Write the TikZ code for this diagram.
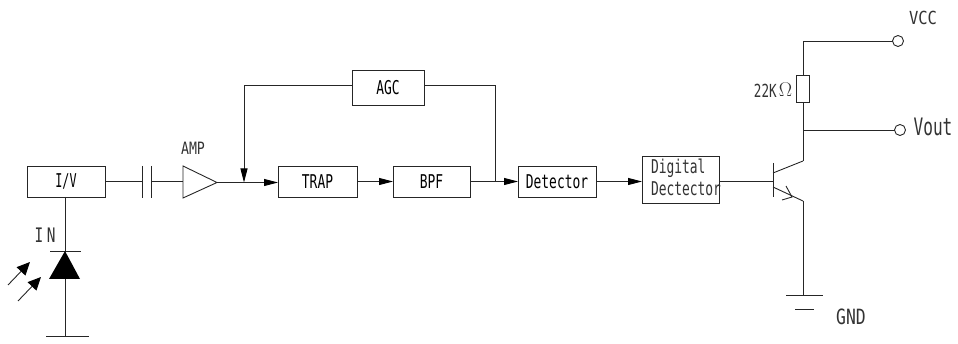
\documentclass[tikz,border=0pt]{standalone}
\usepackage{fontspec}
\setmainfont{DejaVu Sans Mono}
\usetikzlibrary{arrows.meta}
\newcommand{\nar}[2][.68]{\scalebox{#1}[1]{#2}}
\tikzset{
  wire/.style={line width=.9pt,draw=black!85},
  blk/.style={draw=black!85,line width=.9pt,inner sep=0pt,outer sep=0pt,font=\fontsize{19}{22}\selectfont},
  lab/.style={inner sep=0pt,outer sep=0pt,font=\fontsize{19}{22}\selectfont,text=black!80},
  arr/.style={wire,-{Triangle[length=14pt,width=7pt,color=black]}},
  ray/.style={wire,-{Triangle[length=13pt,width=12pt,color=black]}},
  term/.style={circle,draw=black!85,line width=.9pt,inner sep=0pt,outer sep=0pt,minimum size=11pt}
}
\begin{document}
\begin{tikzpicture}[x=1pt,y=-1pt]
\useasboundingbox (0,0) rectangle (958,344);
% blocks
\node[blk,minimum width=78pt,minimum height=31pt] (iv) at (66,181.5) {\nar[.62]{I/V}};
\node[blk,minimum width=79pt,minimum height=31pt] (trap) at (317.5,181.5) {\nar{TRAP}};
\node[blk,minimum width=77pt,minimum height=31pt] (bpf) at (431.5,181.5) {\nar{BPF}};
\node[blk,minimum width=78pt,minimum height=31pt] (det) at (557,181.5) {\nar{Detector}};
\node[blk,minimum width=72pt,minimum height=35pt] (agc) at (388,87.5) {\nar{AGC}};
\node[blk,minimum width=77pt,minimum height=47pt] (dig) at (680.5,179.5) {};
\node[lab,anchor=west] (digA) at (651,168) {\nar{Digital}};
\node[lab,anchor=west] (digB) at (651,188.5) {\nar{Dectector}};
% capacitor
\coordinate (capL) at (142,181);
\coordinate (capR) at (151,181);
\draw[wire] (142,166) -- (142,198);
\draw[wire] (151,166) -- (151,198);
\draw[wire] (iv.east |- capL) -- (capL);
% amplifier
\coordinate (ampIn) at (183,181);
\coordinate (ampOut) at (217,182.5);
\draw[wire,line join=miter] (183,166) -- (ampOut) -- (183,198) -- cycle;
\draw[wire] (capR) -- (ampIn);
\node[lab,font=\fontsize{17}{20}\selectfont] (amp) at (193,148) {\nar[.78]{AMP}};
% signal path
\coordinate (junc) at (244,182.5);
\draw[wire] (ampOut) -- (junc);
\draw[arr] (junc) -- (trap.west |- junc);
\draw[arr] (trap) ++(39.5,0) -- (bpf.west);
\coordinate (tap) at (495,181.5);
\draw[wire] (bpf.east) -- (tap);
\draw[arr] (tap) -- (det.west);
\draw[arr] (det.east) -- (dig.west |- det.east);
% AGC loop
\draw[wire] ([yshift=2.5pt]agc.east) -| (tap);
\draw[arr] ([yshift=2.5pt]agc.west) -| (junc);
% photodiode
\coordinate (dTop) at (65,251);
\coordinate (dBase) at (65,279);
\coordinate (dEnd) at (65,336);
\draw[wire] (iv.south -| dTop) -- (dTop);
\draw[wire] (50,251) -- (81,251);
\fill[black] (dTop) -- (80,279) -- (49,279) -- cycle;
\draw[wire] (dBase) -- (dEnd);
\draw[wire] (46,336) -- (89,336);
\node[lab,font=\fontsize{20}{22}\selectfont] (in) at (45,235) {\scalebox{.72}[1]{I\kern5pt N}};
\draw[ray] (8,285) -- (30,262);
\draw[ray] (18,301) -- (41,277);
% transistor
\coordinate (base) at (773,181);
\coordinate (coll) at (803,161);
\coordinate (emit) at (803,201);
\draw[wire] (dig.east |- base) -- (base);
\draw[wire] (773,163) -- (773,197);
\draw[wire] (773,173) -- (coll);
\draw[wire] (773,187) -- (emit);
\draw[wire] (782,200) -- (792,197) -- (786,186);
% ground
\coordinate (gnd) at (803,295);
\draw[wire] (emit) -- (gnd);
\draw[wire] (786,295) -- (823,295);
\draw[wire] (795,309) -- (814,309);
\node[lab,font=\fontsize{21}{24}\selectfont] (gndt) at (851,317) {\nar[.78]{GND}};
% resistor and outputs
\node[draw=black!85,line width=.9pt,inner sep=0pt,outer sep=0pt,minimum width=13pt,minimum height=27pt] (res) at (803,88.5) {};
\node[lab,font=\fontsize{18}{20}\selectfont] (rlab) at (773,90) {\nar[.7]{22K}\kern2pt\raisebox{1pt}{\scalebox{1.15}{$\Omega$}}};
\node[term] (vcc) at (898,41) {};
\node[term] (vout) at (900,130) {};
\node[lab,font=\fontsize{18}{20}\selectfont] (vcct) at (923,18) {\nar[.86]{VCC}};
\node[lab,font=\fontsize{24}{27}\selectfont] (voutt) at (933,127) {\nar[.67]{Vout}};
\draw[wire] (res.north) |- (vcc.west);
\coordinate (outj) at (803,130);
\draw[wire] (coll) -- (res.south);
\draw[wire] (outj) -- (vout.west);
\end{tikzpicture}
\end{document}
